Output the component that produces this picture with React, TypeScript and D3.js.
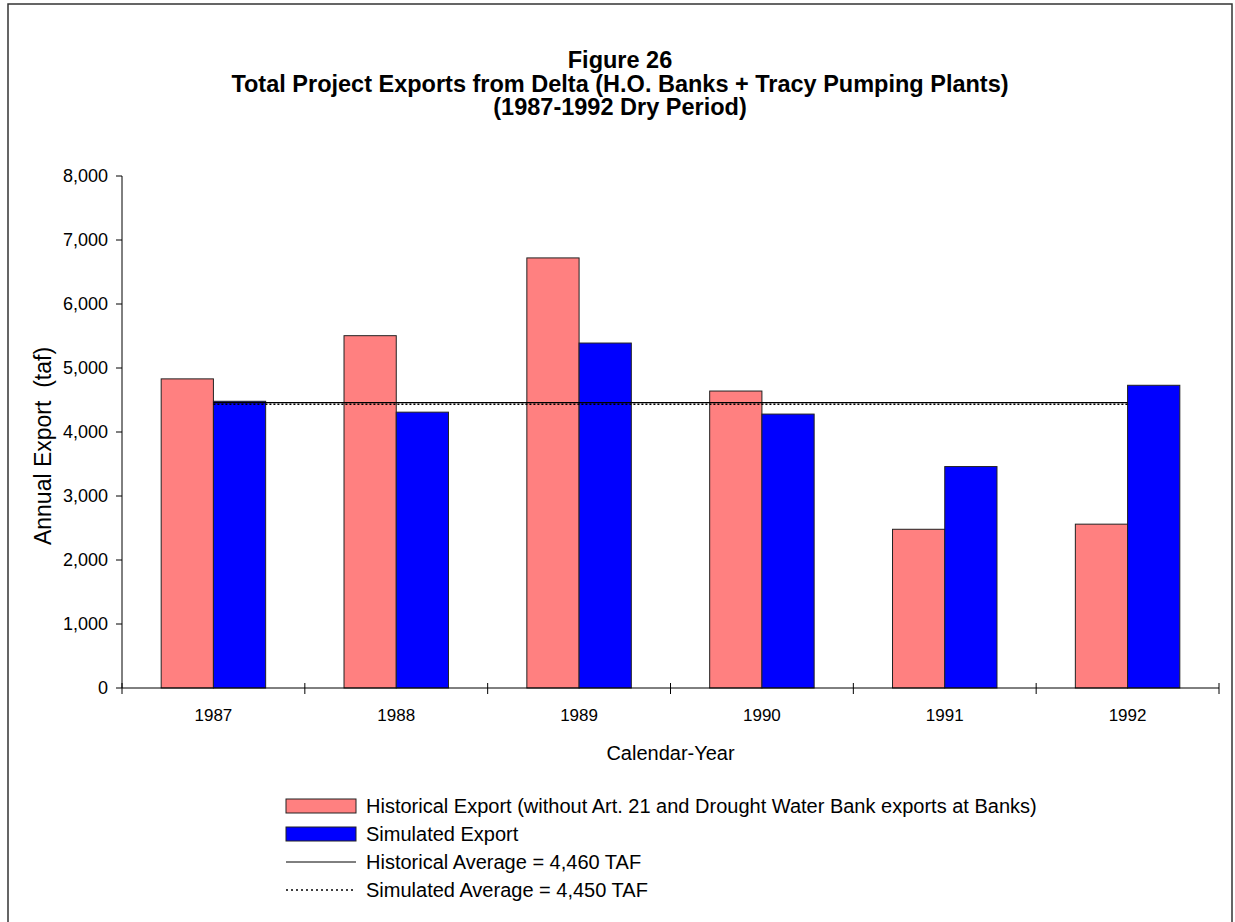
import React from "react";
import * as d3 from "d3";

const years = ["1987", "1988", "1989", "1990", "1991", "1992"];
const historical = [4830, 5505, 6720, 4640, 2480, 2560];
const simulated = [4480, 4310, 5390, 4280, 3460, 4730];
const historicalAvg = 4460;
const simulatedAvg = 4450;
const yTicks = [0, 1000, 2000, 3000, 4000, 5000, 6000, 7000, 8000];
const titleLines = [
  "Figure 26",
  "Total Project Exports from Delta (H.O. Banks + Tracy Pumping Plants)",
  "(1987-1992 Dry Period)",
];
const legendItems = [
  { label: "Historical Export (without Art. 21 and Drought Water Bank exports at Banks)", kind: "pink" },
  { label: "Simulated Export", kind: "blue" },
  { label: "Historical Average = 4,460 TAF", kind: "solid" },
  { label: "Simulated Average = 4,450 TAF", kind: "dotted" },
];

const FONT = "Arial, 'Liberation Sans', Helvetica, sans-serif";
const PINK = "#FF8080";
const BLUE = "#0000FF";

export default function App() {
  const left = 122, right = 1219, top = 176, bottom = 688;
  const x = d3.scaleBand<string>().domain(years).range([left, right]).padding(0);
  const y = d3.scaleLinear().domain([0, 8000]).range([bottom, top]);
  const bw = x.bandwidth();
  const barW = bw / 3.5;
  const fmt = d3.format(",");
  const center = (yr: string) => (x(yr) as number) + bw / 2;
  const x0 = center(years[0]);
  const x1 = center(years[years.length - 1]);

  return (
    <svg width={1235} height={922} style={{ position: "absolute", left: 0, top: 0, background: "#fff" }} fontFamily={FONT}>
      <rect x={8} y={4} width={1224} height={940} fill="#fff" stroke="#333" strokeWidth={1.5} />
      {titleLines.map((t, i) => (
        <text key={i} x={620} y={60 + i * 23.5} textAnchor="middle" dominantBaseline="central" fontWeight="bold" fontSize={23.5} fill="#000">
          {t}
        </text>
      ))}
      {/* bars */}
      {years.map((yr, i) => {
        const c = center(yr);
        return (
          <g key={yr}>
            <rect x={c - barW} y={y(historical[i])} width={barW} height={bottom - y(historical[i])} fill={PINK} stroke="#222" strokeWidth={1} />
            <rect x={c} y={y(simulated[i])} width={barW} height={bottom - y(simulated[i])} fill={BLUE} stroke="#222" strokeWidth={1} />
          </g>
        );
      })}
      {/* average lines */}
      <line x1={x0} x2={x1} y1={y(historicalAvg)} y2={y(historicalAvg)} stroke="#000" strokeWidth={1.2} />
      <line x1={x0} x2={x1} y1={y(simulatedAvg) + 1} y2={y(simulatedAvg) + 1} stroke="#000" strokeWidth={1.5} strokeDasharray="2,2" />
      {/* y axis */}
      <line x1={left} x2={left} y1={top} y2={bottom} stroke="#000" strokeWidth={1} />
      {yTicks.map((t) => (
        <g key={t}>
          <line x1={left - 6} x2={left} y1={y(t)} y2={y(t)} stroke="#000" />
          <text x={left - 14} y={y(t)} textAnchor="end" dominantBaseline="central" fontSize={18} fill="#000">
            {fmt(t)}
          </text>
        </g>
      ))}
      {/* x axis */}
      <line x1={left} x2={right} y1={bottom} y2={bottom} stroke="#000" strokeWidth={1} />
      {[...years.map((yr) => x(yr) as number), right].map((px, i) => (
        <line key={i} x1={px} x2={px} y1={bottom - 5} y2={bottom + 6} stroke="#000" />
      ))}
      {years.map((yr) => (
        <text key={yr} x={center(yr)} y={715} textAnchor="middle" dominantBaseline="central" fontSize={17} fill="#000">
          {yr}
        </text>
      ))}
      <text x={(left + right) / 2} y={753} textAnchor="middle" dominantBaseline="central" fontSize={20} fill="#000">
        Calendar-Year
      </text>
      <text transform={`translate(43, 446) rotate(-90)`} textAnchor="middle" dominantBaseline="central" fontSize={23} fill="#000" style={{ whiteSpace: "pre" }}>
        {"Annual Export  (taf)"}
      </text>
      {/* legend */}
      {legendItems.map((it, i) => {
        const cy = 806 + i * 28;
        return (
          <g key={i}>
            {it.kind === "pink" && <rect x={286} y={cy - 7} width={70} height={14} fill={PINK} stroke="#222" strokeWidth={1} />}
            {it.kind === "blue" && <rect x={286} y={cy - 7} width={70} height={14} fill={BLUE} stroke="#222" strokeWidth={1} />}
            {it.kind === "solid" && <line x1={286} x2={356} y1={cy} y2={cy} stroke="#000" strokeWidth={1} />}
            {it.kind === "dotted" && <line x1={286} x2={356} y1={cy} y2={cy} stroke="#000" strokeWidth={1.5} strokeDasharray="2,3" />}
            <text x={366} y={cy} dominantBaseline="central" fontSize={20} fill="#000">
              {it.label}
            </text>
          </g>
        );
      })}
    </svg>
  );
}
